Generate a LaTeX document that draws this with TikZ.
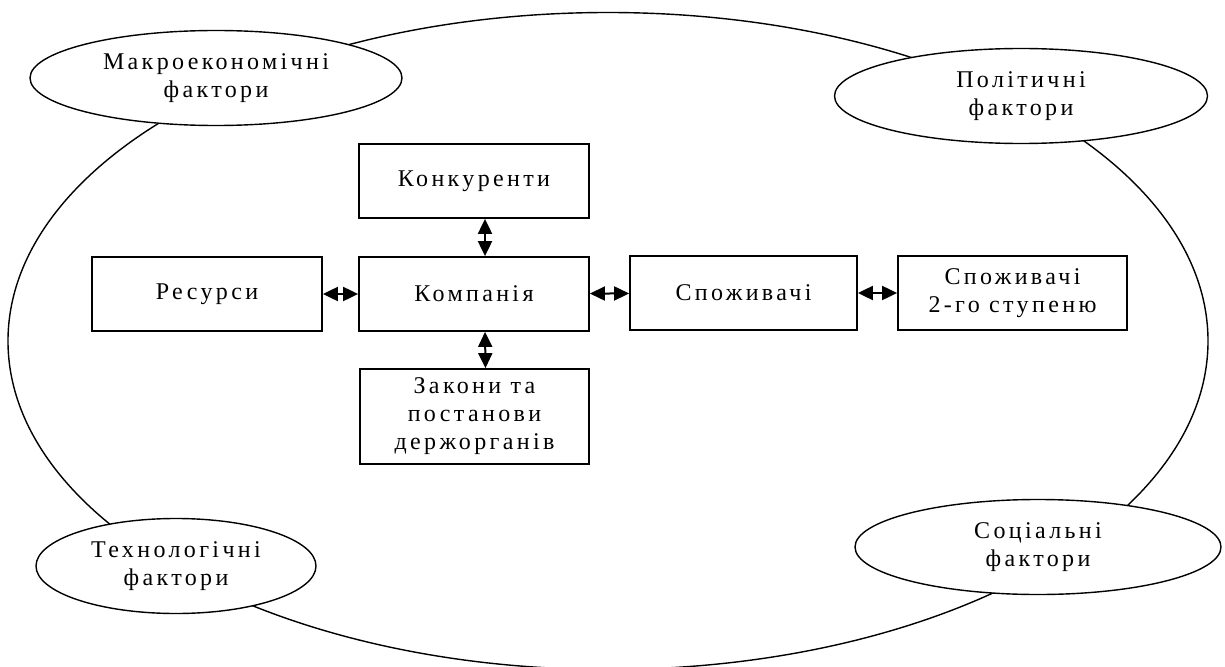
\documentclass[tikz,border=0pt]{standalone}
\usepackage{fontspec}
\setmainfont{Liberation Serif}[LetterSpace=14]
\usetikzlibrary{shapes.geometric,arrows.meta}
\begin{document}
\begin{tikzpicture}[x=1pt,y=-1pt,
  txt/.style={align=center, font=\fontsize{24}{28}\selectfont},
  box/.style={txt, draw, line width=1.8pt, rectangle, inner sep=0pt, minimum height=74pt},
  factor/.style={txt, draw, line width=1.4pt, ellipse, fill=white, inner sep=0pt, minimum height=95pt},
  biarrow/.style={{Triangle[length=15pt,width=14pt]}-{Triangle[length=15pt,width=14pt]}, line width=2pt}]
\useasboundingbox (0,0) rectangle (1225,666);
% environment
\node[draw, line width=1.4pt, ellipse, minimum width=1200pt, minimum height=657pt, inner sep=0pt] (env) at (608,341) {};
% factors
\node[factor, minimum width=372pt] (macro) at (216,78) {Макроекономічні\\фактори};
\node[factor, minimum width=373pt] (polit) at (1021,96) {Політичні\\фактори};
\node[factor, minimum width=280pt] (tech) at (176,566) {Технологічні\\фактори};
\node[factor, minimum width=366pt] (soc) at (1038,547) {Соціальні\\фактори};
% boxes
\node[box, minimum width=230pt] (konk) at (474,181) {Конкуренти};
\node[box, minimum width=230pt] (komp) at (474,294) {Компанія};
\node[box, minimum width=230pt] (res) at (207,294) {Ресурси};
\node[box, minimum width=229pt, minimum height=95pt] (zak) at (474.5,416.5) {Закони та\\постанови\\держорганів};
\node[box, minimum width=227pt] (spo) at (743.5,293) {Споживачі};
\node[box, minimum width=229pt] (spo2) at (1012.5,293) {Споживачі\\2-го ступеню};
% arrows
\draw[biarrow] (res) -- (komp);
\draw[biarrow] (komp) -- (spo);
\draw[biarrow] (spo) -- (spo2);
\draw[biarrow] ([xshift=11pt]konk.south) -- ([xshift=11pt]komp.north);
\draw[biarrow] ([xshift=11pt]komp.south) -- ([xshift=11pt]zak.north);
\end{tikzpicture}
\end{document}
